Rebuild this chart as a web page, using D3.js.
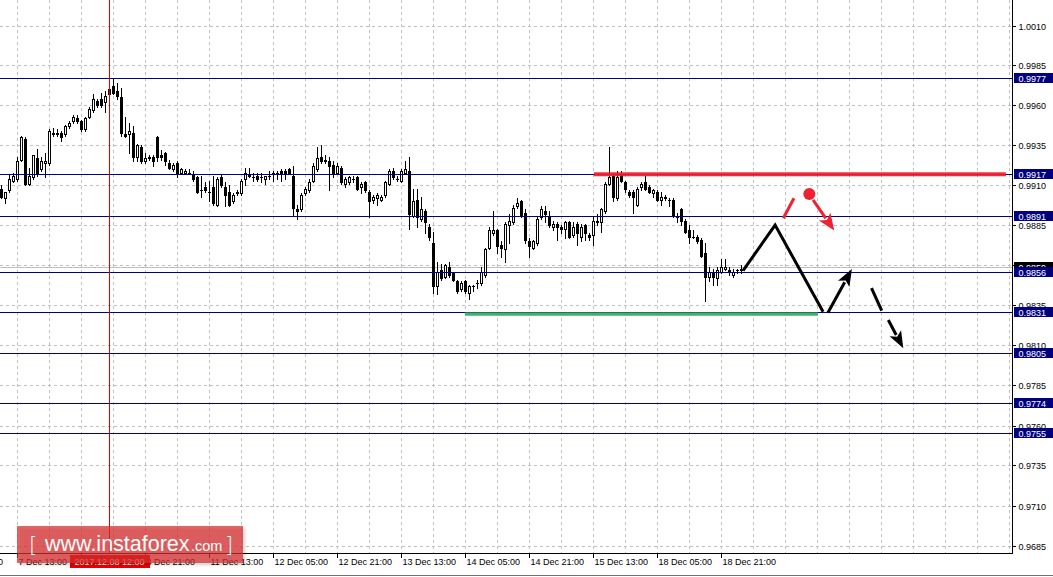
<!DOCTYPE html>
<html><head><meta charset="utf-8">
<script src="https://cdn.jsdelivr.net/npm/d3@7"></script>
<style>html,body{margin:0;padding:0;background:#fff;overflow:hidden}svg{display:block}</style>
</head><body>
<svg id="chart" width="1053" height="577"></svg>
<script>
// ---------------- DATA (H1 candles, 7 Dec 09:00 .. 19 Dec 02:00) ----------------
const opens = [
.9908,.9902,.9907,.9913,.9914,.9926,.9939,.9911,.9915,.9927,.9920,.9924,.9924,.9943,.9943,.9943,.9942,.9947,.9950,.9952,
.9950,.9945,.9953,.9957,.9963,.9964,.9962,.9967,.9972,.9969,.9965,.9942,.9942,.9943,.9928,.9934,.9925,.9928,.9928,.9940,
.9929,.9930,.9924,.9920,.9924,.9918,.9918,.9918,.9917,.9915,.9907,.9909,.9906,.9909,.9898,.9915,.9909,.9906,.9900,.9905,
.9905,.9914,.9917,.9915,.9916,.9915,.9914,.9916,.9917,.9918,.9919,.9919,.9920,.9916,.9895,.9895,.9905,.9907,.9913,.9920,
.9928,.9926,.9925,.9923,.9918,.9921,.9911,.9912,.9914,.9915,.9909,.9912,.9906,.9901,.9902,.9901,.9904,.9911,.9919,.9914,
.9913,.9918,.9919,.9891,.9901,.9889,.9894,.9884,.9874,.9847,.9857,.9853,.9859,.9855,.9850,.9845,.9850,.9843,.9847,.9849,
.9849,.9854,.9871,.9880,.9882,.9873,.9870,.9885,.9887,.9897,.9900,.9893,.9875,.9871,.9874,.9890,.9894,.9891,.9884,.9886,
.9884,.9883,.9887,.9879,.9886,.9878,.9885,.9879,.9879,.9887,.9887,.9894,.9911,.9916,.9902,.9917,.9912,.9906,.9906,.9898,
.9909,.9912,.9909,.9905,.9906,.9901,.9903,.9901,.9901,.9890,.9895,.9888,.9882,.9878,.9878,.9876,.9868,.9853,.9856,.9852,
.9856,.9858,.9857,.9854,.9857,.9857];
const highs = [
.9910,.9906,.9917,.9918,.9928,.9941,.9940,.9921,.9929,.9933,.9928,.9930,.9945,.9946,.9945,.9944,.9948,.9950,.9954,.9954,
.9951,.9953,.9959,.9967,.9964,.9968,.9969,.9971,.9977,.9974,.9971,.9953,.9949,.9947,.9936,.9935,.9930,.9929,.9929,.9941,
.9932,.9931,.9926,.9924,.9925,.9921,.9920,.9920,.9919,.9916,.9916,.9912,.9913,.9916,.9915,.9917,.9912,.9910,.9905,.9907,
.9914,.9921,.9921,.9918,.9918,.9918,.9916,.9919,.9919,.9919,.9920,.9920,.9921,.9922,.9898,.9905,.9909,.9914,.9924,.9934,
.9935,.9929,.9928,.9925,.9924,.9922,.9915,.9916,.9916,.9916,.9912,.9913,.9907,.9904,.9905,.9904,.9913,.9920,.9921,.9916,
.9920,.9925,.9928,.9908,.9908,.9903,.9895,.9886,.9881,.9862,.9861,.9861,.9862,.9856,.9851,.9850,.9851,.9848,.9848,.9851,
.9859,.9871,.9884,.9894,.9883,.9875,.9887,.9892,.9898,.9902,.9901,.9895,.9877,.9876,.9890,.9897,.9897,.9894,.9888,.9887,
.9885,.9888,.9888,.9887,.9887,.9886,.9886,.9880,.9890,.9892,.9896,.9912,.9934,.9918,.9919,.9919,.9913,.9907,.9907,.9909,
.9912,.9916,.9910,.9908,.9907,.9906,.9904,.9902,.9902,.9893,.9896,.9889,.9885,.9882,.9879,.9877,.9874,.9859,.9858,.9859,
.9864,.9864,.9859,.9858,.9858,.9860];
const lows = [
.9902,.9899,.9906,.9912,.9913,.9925,.9910,.9910,.9914,.9916,.9919,.9915,.9923,.9941,.9941,.9938,.9941,.9946,.9949,.9949,
.9944,.9944,.9952,.9956,.9959,.9959,.9956,.9966,.9967,.9964,.9941,.9940,.9930,.9925,.9925,.9924,.9924,.9926,.9922,.9925,
.9926,.9923,.9920,.9919,.9915,.9917,.9917,.9917,.9913,.9905,.9903,.9906,.9900,.9898,.9897,.9909,.9897,.9897,.9899,.9904,
.9904,.9910,.9915,.9913,.9913,.9912,.9911,.9914,.9913,.9914,.9913,.9914,.9917,.9891,.9889,.9894,.9904,.9906,.9912,.9919,
.9924,.9924,.9907,.9915,.9917,.9911,.9909,.9911,.9912,.9907,.9905,.9906,.9890,.9899,.9898,.9900,.9903,.9910,.9914,.9913,
.9912,.9917,.9883,.9890,.9884,.9888,.9880,.9876,.9843,.9842,.9851,.9852,.9853,.9850,.9843,.9844,.9843,.9839,.9844,.9846,
.9848,.9853,.9870,.9879,.9868,.9865,.9862,.9874,.9886,.9896,.9890,.9874,.9865,.9870,.9873,.9889,.9887,.9884,.9882,.9876,
.9880,.9877,.9877,.9878,.9873,.9875,.9876,.9876,.9873,.9885,.9881,.9893,.9910,.9900,.9901,.9912,.9906,.9903,.9893,.9897,
.9907,.9907,.9905,.9903,.9900,.9898,.9901,.9897,.9890,.9887,.9885,.9880,.9874,.9877,.9874,.9865,.9838,.9850,.9848,.9848,
.9855,.9857,.9854,.9853,.9855,.9855];
const closes = [
.9903,.9906,.9914,.9916,.9925,.9940,.9911,.9916,.9929,.9918,.9925,.9925,.9944,.9942,.9942,.9940,.9947,.9949,.9953,.9950,
.9945,.9952,.9958,.9964,.9960,.9960,.9966,.9970,.9968,.9966,.9943,.9941,.9944,.9928,.9935,.9925,.9927,.9927,.9925,.9928,
.9928,.9925,.9921,.9923,.9918,.9920,.9919,.9918,.9914,.9906,.9907,.9907,.9906,.9899,.9914,.9910,.9904,.9898,.9904,.9906,
.9913,.9918,.9916,.9915,.9914,.9915,.9916,.9916,.9918,.9917,.9917,.9918,.9917,.9896,.9894,.9904,.9908,.9912,.9922,.9927,
.9925,.9925,.9922,.9918,.9922,.9912,.9914,.9915,.9914,.9908,.9911,.9907,.9900,.9903,.9904,.9903,.9912,.9919,.9915,.9914,
.9919,.9920,.9892,.9900,.9890,.9895,.9887,.9878,.9847,.9856,.9852,.9860,.9854,.9851,.9844,.9849,.9844,.9847,.9847,.9849,
.9856,.9870,.9882,.9882,.9872,.9871,.9886,.9888,.9896,.9899,.9891,.9876,.9872,.9875,.9889,.9895,.9892,.9885,.9886,.9884,
.9883,.9887,.9878,.9884,.9880,.9884,.9880,.9878,.9888,.9888,.9895,.9911,.9915,.9903,.9915,.9913,.9908,.9904,.9903,.9908,
.9911,.9908,.9906,.9907,.9901,.9903,.9902,.9901,.9891,.9890,.9888,.9881,.9878,.9878,.9875,.9866,.9853,.9856,.9853,.9857,
.9859,.9859,.9856,.9856,.9857,.9858];

// horizontal support / resistance levels (navy lines with labels)
const levels = [0.9977, 0.9917, 0.9891, 0.9856, 0.9831, 0.9805, 0.9774, 0.9755];
const bidPrice = 0.9859;
const yTickValues = [1.0010, 0.9985, 0.9960, 0.9935, 0.9910, 0.9885, 0.9860, 0.9835, 0.9810, 0.9785, 0.9760, 0.9735, 0.9710, 0.9685];
const yHiddenLabels = [0.9860]; // fully covered by the current-price tag in the original
const xTickIndex = [-12, 4, 20, 36, 52, 68, 84, 100, 116, 132, 148, 164, 180];
const xTickLabels = ["6 Dec 21:00","7 Dec 13:00","","8 Dec 21:00","11 Dec 13:00","12 Dec 05:00","12 Dec 21:00",
                     "13 Dec 13:00","14 Dec 05:00","14 Dec 21:00","15 Dec 13:00","18 Dec 05:00","18 Dec 21:00"];
const crosshairIndex = 27;
const crosshairLabel = "2017.12.08 12:00";

// analyst drawings, in (bar index, price)
const redLevel = [[148.1, 0.9917], [251.1, 0.9917]];
const greenLevel = [[115.9, 0.98297], [204.1, 0.98297]];
const zigzag = [[185.4, 0.98568], [193.4, 0.98853], [205.4, 0.98311]];
const upArrow = [[206.6, 0.98305], [212.6, 0.98578]];
const dashSeg = [[217.5, 0.98459], [220.05, 0.98318]];
const downArrow = [[221.7, 0.98259], [225.45, 0.98083]];
const redSeg = [[195.45, 0.98895], [198.1, 0.99020]];
const redDot = [201.95, 0.99047];
const redArrow = [[202.9, 0.99010], [208.2, 0.98818]];

// ---------------- SCALES ----------------
const W = 1053, H = 577, plotRight = 1012.5, plotBottom = 553;
const x = d3.scaleLinear().domain([0, 180]).range([1.5, 721.5]);
const y = d3.scaleLinear().domain([0.9685, 1.0010]).range([545.5, 25.5]);
const crisp = v => Math.round(v) + 0.5;

const svg = d3.select("#chart");
svg.append("rect").attr("width", W).attr("height", H).attr("fill", "#fff");

const defs = svg.append("defs");
defs.append("clipPath").attr("id", "plotclip").append("rect")
  .attr("x", 0).attr("y", 0).attr("width", plotRight).attr("height", plotBottom);
const f = defs.append("filter").attr("id", "wmshadow").attr("x", "-10%").attr("y", "-20%").attr("width", "130%").attr("height", "160%");
f.append("feDropShadow").attr("dx", 2).attr("dy", 2).attr("stdDeviation", 1.5).attr("flood-color", "#000").attr("flood-opacity", 0.25);

const plot = svg.append("g").attr("clip-path", "url(#plotclip)");

// ---------------- GRID ----------------
const gridIdx = d3.range(4, 256, 8).filter(i => x(i) < plotRight);
plot.append("g").selectAll("line").data(gridIdx).join("line")
  .attr("x1", d => crisp(x(d) - 0.5)).attr("x2", d => crisp(x(d) - 0.5))
  .attr("y1", 0).attr("y2", plotBottom)
  .attr("stroke", "#c0c0c0").attr("stroke-dasharray", "3,3").attr("shape-rendering", "crispEdges");
plot.append("g").selectAll("line").data(yTickValues).join("line")
  .attr("x1", 0).attr("x2", plotRight)
  .attr("y1", d => crisp(y(d))).attr("y2", d => crisp(y(d)))
  .attr("stroke", "#c0c0c0").attr("stroke-dasharray", "3,3").attr("shape-rendering", "crispEdges");

// bid line
plot.append("line").attr("x1", 0).attr("x2", plotRight)
  .attr("y1", crisp(y(bidPrice))).attr("y2", crisp(y(bidPrice)))
  .attr("stroke", "#c0c0c0").attr("shape-rendering", "crispEdges");

// ---------------- CANDLES ----------------
const candles = opens.map((o, i) => ({i, o, h: highs[i], l: lows[i], c: closes[i]}));
const cg = plot.append("g").attr("shape-rendering", "crispEdges");
const cs = cg.selectAll("g").data(candles).join("g");
cs.append("line")
  .attr("x1", d => x(d.i)).attr("x2", d => x(d.i))
  .attr("y1", d => Math.round(y(d.h))).attr("y2", d => Math.round(y(d.l)) + 1)
  .attr("stroke", "#000");
cs.each(function(d) {
  const g = d3.select(this);
  const yo = Math.round(y(d.o)), yc = Math.round(y(d.c));
  const top = Math.min(yo, yc), bot = Math.max(yo, yc);
  const cx = x(d.i);
  if (bot - top < 1) {
    g.append("line").attr("x1", cx - 1.5).attr("x2", cx + 1.5)
      .attr("y1", top + 0.5).attr("y2", top + 0.5).attr("stroke", "#000");
  } else if (d.c > d.o) {
    g.append("rect").attr("x", cx - 1).attr("y", top + 0.5)
      .attr("width", 2).attr("height", bot - top)
      .attr("fill", "#fff").attr("stroke", "#000");
  } else {
    g.append("rect").attr("x", cx - 1.5).attr("y", top)
      .attr("width", 3).attr("height", bot - top + 1).attr("fill", "#000");
  }
});

// ---------------- LEVEL LINES ----------------
plot.append("g").selectAll("line").data(levels).join("line")
  .attr("x1", 0).attr("x2", plotRight)
  .attr("y1", d => crisp(y(d))).attr("y2", d => crisp(y(d)))
  .attr("stroke", "#000080").attr("stroke-width", 1).attr("shape-rendering", "crispEdges");

// crosshair
plot.append("line")
  .attr("x1", crisp(x(crosshairIndex) - 0.5)).attr("x2", crisp(x(crosshairIndex) - 0.5))
  .attr("y1", 0).attr("y2", plotBottom).attr("stroke", "#e00000").attr("shape-rendering", "crispEdges");

// ---------------- DRAWINGS ----------------
const line = d3.line().x(d => x(d[0])).y(d => y(d[1]));
const draw = svg.append("g");
draw.append("path").attr("d", line(redLevel)).attr("stroke", "#f01e2c").attr("stroke-opacity", 0.92)
  .attr("stroke-width", 4).attr("fill", "none");
draw.append("path").attr("d", line(greenLevel)).attr("stroke", "#2eaa5c").attr("stroke-opacity", 0.9)
  .attr("stroke-width", 3.5).attr("fill", "none");
draw.append("path").attr("d", line(zigzag)).attr("stroke", "#000").attr("stroke-width", 3)
  .attr("fill", "none").attr("stroke-linejoin", "miter");
draw.append("path").attr("d", line(dashSeg)).attr("stroke", "#000").attr("stroke-width", 3).attr("fill", "none");
draw.append("path").attr("d", line(redSeg)).attr("stroke", "#ee2230").attr("stroke-width", 3).attr("fill", "none");

function arrow(pts, color, headLen, headW) {
  const x0 = x(pts[0][0]), y0 = y(pts[0][1]), x1 = x(pts[1][0]), y1 = y(pts[1][1]);
  const dx = x1 - x0, dy = y1 - y0, len = Math.hypot(dx, dy);
  const ux = dx / len, uy = dy / len, px = -uy, py = ux;
  const bx = x1 - ux * headLen, by = y1 - uy * headLen;
  draw.append("line").attr("x1", x0).attr("y1", y0).attr("x2", bx + ux * 2).attr("y2", by + uy * 2)
    .attr("stroke", color).attr("stroke-width", 3);
  draw.append("path").attr("d", `M${x1},${y1}L${bx + px * headW / 2},${by + py * headW / 2}L${bx + ux * 4},${by + uy * 4}L${bx - px * headW / 2},${by - py * headW / 2}Z`)
    .attr("fill", color);
}
arrow(upArrow, "#000", 17, 13);
arrow(downArrow, "#000", 17, 13);
arrow(redArrow, "#ee2230", 17, 14);
draw.append("circle").attr("cx", x(redDot[0])).attr("cy", y(redDot[1])).attr("r", 6).attr("fill", "#ee2230");

// ---------------- AXES ----------------
svg.append("line").attr("x1", plotRight).attr("x2", plotRight).attr("y1", 0).attr("y2", plotBottom + 0.5)
  .attr("stroke", "#000").attr("shape-rendering", "crispEdges");
svg.append("line").attr("x1", 0).attr("x2", plotRight).attr("y1", plotBottom + 0.5).attr("y2", plotBottom + 0.5)
  .attr("stroke", "#000").attr("shape-rendering", "crispEdges");
svg.append("line").attr("x1", 0).attr("x2", W).attr("y1", 575.5).attr("y2", 575.5)
  .attr("stroke", "#707070").attr("shape-rendering", "crispEdges");

const FONT = "'Liberation Sans', Arial, sans-serif";
const yAxis = d3.axisRight(y).tickValues(yTickValues)
  .tickFormat(d => yHiddenLabels.includes(d) ? "" : d3.format(".4f")(d)).tickSize(3).tickPadding(3);
const yg = svg.append("g").attr("transform", `translate(${plotRight},0)`).call(yAxis);
yg.select(".domain").remove();
yg.selectAll(".tick line").attr("stroke", "#000").attr("shape-rendering", "crispEdges");
yg.selectAll(".tick").attr("transform", d => `translate(0,${crisp(y(d))})`);
yg.selectAll("text").attr("font-family", FONT).attr("font-size", 9).attr("fill", "#000").attr("dy", "0.34em");

const xAxis = d3.axisBottom(x).tickValues(xTickIndex)
  .tickFormat((d, i) => xTickLabels[i]).tickSize(4).tickPadding(2);
const xg = svg.append("g").attr("transform", `translate(0,${plotBottom + 0.5})`).call(xAxis);
xg.select(".domain").remove();
xg.selectAll(".tick").attr("transform", d => `translate(${crisp(x(d) - 0.5)},0)`);
xg.selectAll(".tick line").attr("stroke", "#000").attr("shape-rendering", "crispEdges");
xg.selectAll("text").attr("font-family", FONT).attr("font-size", 9).attr("fill", "#000")
  .attr("text-anchor", "start").attr("x", 1).attr("y", 5).attr("dy", "0.71em");

// current price (bid) label then level labels
function priceBox(p, bg) {
  const cy = y(p);
  const g = svg.append("g");
  g.append("rect").attr("x", plotRight + 1).attr("y", Math.round(cy) - 5).attr("width", 39).attr("height", 10)
    .attr("fill", bg).attr("shape-rendering", "crispEdges");
  g.append("text").attr("x", plotRight + 6).attr("y", Math.round(cy) + 3.5).attr("fill", "#fff")
    .attr("font-family", FONT).attr("font-size", 9).text(d3.format(".4f")(p));
}
priceBox(bidPrice, "#000");
levels.forEach(p => priceBox(p, "#000080"));

// crosshair time label
const chx = x(crosshairIndex);
svg.append("rect").attr("x", Math.round(chx) - 40).attr("y", 555).attr("width", 80).attr("height", 13)
  .attr("fill", "#e60000");
svg.append("text").attr("x", chx).attr("y", 565).attr("text-anchor", "middle").attr("fill", "#fff")
  .attr("font-family", FONT).attr("font-size", 9).text(crosshairLabel);

// ---------------- WATERMARK ----------------
const wm = svg.append("g");
wm.append("rect").attr("x", 17).attr("y", 526).attr("width", 226).attr("height", 37)
  .attr("fill", "rgb(214,44,44)").attr("fill-opacity", 0.72).attr("filter", "url(#wmshadow)");
wm.append("text").attr("x", 29).attr("y", 552).attr("fill", "#fff").attr("font-family", "'DejaVu Sans', sans-serif")
  .attr("font-size", 21).attr("font-weight", 200).text("[");
wm.append("text").attr("x", 45).attr("y", 551).attr("fill", "#fff").attr("font-family", FONT)
  .attr("font-size", 21.5).text("www.instaforex");
wm.append("text").attr("x", 191).attr("y", 551).attr("fill", "#fff").attr("font-family", FONT)
  .attr("font-size", 14.5).text(".com");
wm.append("text").attr("x", 225).attr("y", 552).attr("fill", "#fff").attr("font-family", "'DejaVu Sans', sans-serif")
  .attr("font-size", 21).attr("font-weight", 200).text("]");
</script>
</body></html>
